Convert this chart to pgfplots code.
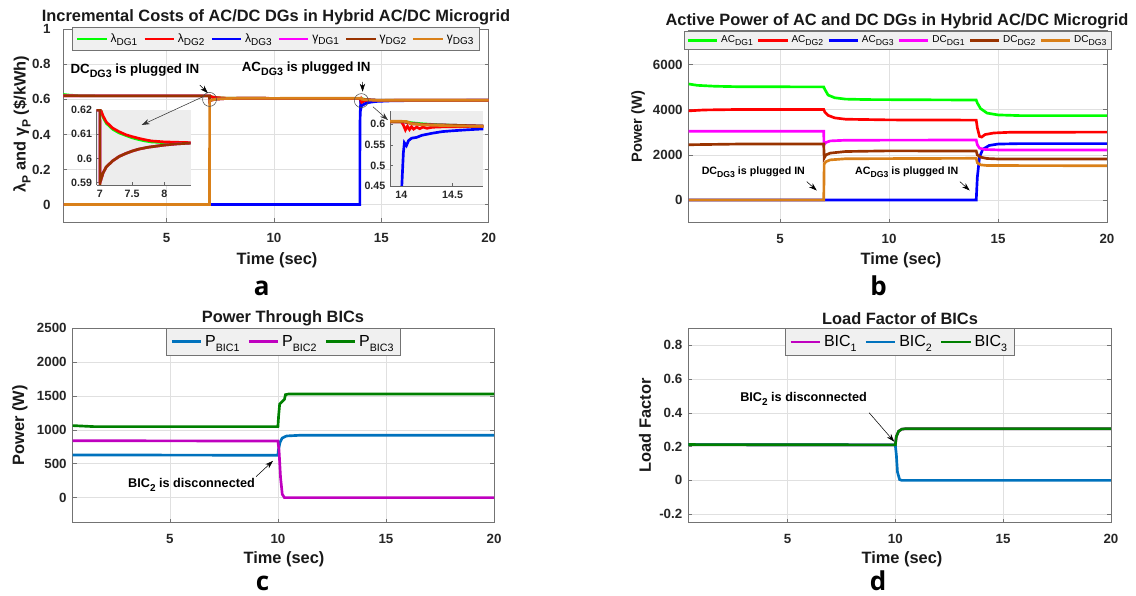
\documentclass[border=0pt]{standalone}
\usepackage{fontspec}
\setmainfont{Liberation Sans}
\newfontfamily\panelfont{Open Sans}
\usepackage{pgfplots}
\pgfplotsset{compat=1.18}
\usepackage{pgfplotstable}
\usetikzlibrary{arrows.meta}

\definecolor{cGreen}{rgb}{0,1,0}
\definecolor{cRed}{rgb}{1,0,0}
\definecolor{cBlue}{rgb}{0,0,1}
\definecolor{cMag}{rgb}{1,0,1}
\definecolor{cBrown}{rgb}{0.6,0.2,0}
\definecolor{cOrange}{rgb}{0.85,0.5,0.1}
\definecolor{bBlue}{rgb}{0,0.447,0.741}
\definecolor{bMag}{rgb}{0.75,0,0.75}
\definecolor{bGreen}{rgb}{0,0.5,0}

\newcommand\sbf[2]{\raisebox{-0.3em}{\fontsize{#1}{#1}\selectfont #2}}

% panel a: incremental costs
\pgfplotstableread{
t v
0.19 0.628
0.5 0.624
1 0.621
2 0.620
7 0.620
7.02 0.6195
7.05 0.617
7.1 0.6145
7.2 0.612
7.3 0.6105
7.4 0.6095
7.5 0.6085
7.6 0.6078
7.7 0.6072
7.8 0.6068
8 0.6065
8.4 0.6063
10 0.606
14 0.606
14.05 0.6055
14.1 0.6035
14.2 0.601
14.3 0.5995
14.5 0.5975
14.8 0.5955
16 0.595
20 0.595
}\aLone
\pgfplotstableread{
t v
0.19 0.621
1 0.620
7 0.620
7.02 0.6195
7.05 0.6175
7.1 0.615
7.2 0.6125
7.3 0.611
7.4 0.6098
7.5 0.609
7.6 0.6083
7.7 0.6077
7.8 0.6072
8 0.6068
8.4 0.6065
10 0.606
14 0.606
14.02 0.598
14.04 0.586
14.06 0.595
14.08 0.587
14.1 0.594
14.12 0.588
14.15 0.593
14.18 0.589
14.21 0.593
14.25 0.590
14.3 0.5925
14.4 0.5935
14.6 0.594
14.8 0.594
16 0.595
20 0.595
}\aLtwo
\pgfplotstableread{
t v
0.19 0
14 0
14.005 0.45
14.02 0.53
14.03 0.555
14.05 0.548
14.07 0.56
14.1 0.566
14.15 0.568
14.2 0.573
14.3 0.578
14.4 0.582
14.5 0.584
14.65 0.5865
14.8 0.5885
15.5 0.592
17 0.594
20 0.595
}\aLthree
\pgfplotstableread{
t v
0.19 0.620
7 0.620
7.003 0.590
7.02 0.5915
7.05 0.594
7.1 0.5965
7.2 0.599
7.3 0.6008
7.4 0.602
7.5 0.603
7.6 0.6038
7.75 0.6046
8 0.6055
8.2 0.606
8.4 0.6063
10 0.606
14 0.606
14.05 0.6045
14.1 0.6015
14.2 0.5995
14.3 0.5985
14.5 0.5975
14.8 0.5955
16 0.595
20 0.595
}\aGtwo
\pgfplotstableread{
t v
0.19 0
7 0
7.003 0.590
7.02 0.5915
7.05 0.594
7.1 0.5965
7.2 0.599
7.3 0.6008
7.4 0.602
7.5 0.603
7.6 0.6038
7.75 0.6046
8 0.6055
8.2 0.606
8.4 0.6063
10 0.606
14 0.607
14.05 0.6065
14.1 0.601
14.2 0.5985
14.3 0.5975
14.5 0.596
14.8 0.5945
16 0.595
20 0.595
}\aGthree

% panel b: active power
\pgfplotstableread{
t v
0.8 5140
1.2 5080
2 5040
3 5020
7 5010
7.05 4900
7.2 4650
7.5 4530
8 4470
9 4450
14 4430
14.05 4300
14.2 4050
14.5 3850
15 3770
16 3740
20 3740
}\bAone
\pgfplotstableread{
t v
0.8 3950
1.5 3990
3 4010
7 4010
7.05 3900
7.2 3750
7.5 3640
8 3580
10 3550
14 3540
14.05 3200
14.15 2820
14.25 2790
14.4 2900
14.8 2970
15.5 3000
20 3010
}\bAtwo
\pgfplotstableread{
t v
0.8 0
14 0
14.05 1000
14.15 1900
14.3 2250
14.6 2420
15 2480
16 2500
20 2500
}\bAthree
\pgfplotstableread{
t v
0.8 3050
7 3050
7.01 2450
7.1 2550
7.3 2620
8 2650
14 2660
14.05 2450
14.15 2300
14.4 2240
15 2220
20 2220
}\bDone
\pgfplotstableread{
t v
0.8 2450
3 2480
7 2480
7.02 1860
7.1 2000
7.3 2080
8 2150
10 2180
14 2170
14.05 2000
14.2 1900
14.5 1840
15 1820
20 1820
}\bDtwo
\pgfplotstableread{
t v
0.8 0
7 0
7.02 1600
7.1 1700
7.3 1780
8 1830
14 1850
14.05 1650
14.2 1560
14.5 1530
20 1520
}\bDthree

% panel c: power through BICs
\pgfplotstableread{
t v
0.5 630
10 625
10.02 700
10.1 820
10.2 880
10.4 910
11 920
20 920
}\cPone
\pgfplotstableread{
t v
0.5 840
10 835
10.05 700
10.12 300
10.2 50
10.3 0
20 0
}\cPtwo
\pgfplotstableread{
t v
0.5 1063
1.5 1048
10 1048
10.03 1200
10.08 1380
10.2 1420
10.3 1450
10.35 1520
10.5 1530
20 1530
}\cPthree

% panel d: load factor
\pgfplotstableread{
t v
0.4 0.212
10 0.21
10.05 0.26
10.15 0.29
10.3 0.303
10.5 0.306
20 0.306
}\dBone
\pgfplotstableread{
t v
0.4 0.212
10 0.21
10.05 0.15
10.1 0.05
10.2 0.005
10.3 0
20 0
}\dBtwo
\pgfplotstableread{
t v
0.4 0.212
10 0.21
10.05 0.26
10.15 0.29
10.3 0.303
10.5 0.306
20 0.306
}\dBthree

\pgfplotsset{
  matl/.style={
    scale only axis, anchor=south west,
    axis line style={black!55},
    every tick/.style={black!55, line width=0.4pt},
    tick align=inside, major tick length=3pt,
    xmajorgrids, ymajorgrids,
    major grid style={black!12, line width=0.4pt},
    ticklabel style={font=\bfseries\fontsize{10}{12}\selectfont, text=black!85},
    /pgf/number format/assume math mode=true,
    /pgf/number format/1000 sep={},
    scaled ticks=false,
    xtick={5,10,15,20}, xmax=20,
    xticklabel style={yshift=-5pt},
    every axis plot/.append style={line width=2pt},
    legend cell align=left,
    legend style={fill=black!6, draw=black!55, line width=0.5pt, at={(0.5,1)},
      anchor=north, inner sep=1.5pt,
      /tikz/every even column/.append style={column sep=4pt}},
    legend image code/.code={\draw[##1, line width=2pt] (0pt,0pt) -- (22pt,0pt);},
  },
  inset/.style={
    scale only axis, anchor=south west,
    axis background/.style={fill=black!7},
    axis x line*=bottom, axis y line*=left,
    axis line style={black!60},
    every tick/.style={black!60},
    tick align=inside, major tick length=2pt,
    ticklabel style={font=\bfseries\fontsize{8}{9}\selectfont, text=black!85},
    /pgf/number format/assume math mode=true,
    every axis plot/.append style={line width=2pt},
  },
}

\begin{document}
\begin{tikzpicture}
\useasboundingbox (0,0) rectangle (852pt,-447pt);

% ---- a ----
\begin{axis}[matl, at={(47.5pt,-166.5pt)}, width=319pt, height=144.5pt,
  xmin=0.19, ymin=-0.1, ymax=1, ytick={0,0.2,0.4,0.6,0.8,1},
  yticklabel style={xshift=-6pt},
  legend columns=6, legend style={font=\fontsize{9}{10}\selectfont, yshift=1.5pt,
    inner sep=2.5pt, /tikz/every even column/.append style={column sep=2.5pt}}]
\addplot[cGreen] table {\aLone};
\addplot[cRed] table {\aLtwo};
\addplot[cBlue] table {\aLthree};
\addplot[cMag] table {\aGtwo};
\addplot[cBrown] table {\aGtwo};
\addplot[cOrange] table {\aGthree};
\legend{λ\sbf{7.5pt}{DG1}, λ\sbf{7.5pt}{DG2}, λ\sbf{7.5pt}{DG3}, γ\sbf{7.5pt}{DG1}, γ\sbf{7.5pt}{DG2}, γ\sbf{7.5pt}{DG3}}
\draw[black!70, line width=0.4pt] (axis cs:7,0.6) circle[radius=5.25pt];
\draw[black!70, line width=0.4pt] (axis cs:14.07,0.593) circle[radius=5.25pt];
\draw[black, -{Stealth[length=6pt,width=4pt]}] (axis cs:6.55,0.682) -- (axis cs:6.92,0.636);
\draw[black, -{Stealth[length=6pt,width=4pt]}] (axis cs:14.12,0.70) -- (axis cs:14.13,0.644);
\node[font=\bfseries\fontsize{10}{12}\selectfont] at (axis cs:3.52,0.765) {DC\sbf{8pt}{DG3} is plugged IN};
\node[font=\bfseries\fontsize{10}{12}\selectfont] at (axis cs:11.5,0.775) {AC\sbf{8pt}{DG3} is plugged IN};
\coordinate (A1s) at (axis cs:6.69,0.615);
\coordinate (A1e) at (axis cs:3.84,0.454);
\coordinate (A2s) at (axis cs:14.61,0.558);
\coordinate (A2e) at (axis cs:15.31,0.482);
\end{axis}

\begin{axis}[inset, at={(72.5pt,-138.75pt)}, width=70.5pt, height=56.25pt,
  xmin=6.95, xmax=8.41, ymin=0.589, ymax=0.62,
  xtick={7,7.5,8}, ytick={0.59,0.6,0.61,0.62}]
\addplot[cOrange] table {\aGthree};
\addplot[cGreen] table {\aLone};
\addplot[cRed] table {\aLtwo};
\addplot[cMag] table {\aGtwo};
\addplot[cBrown] table {\aGtwo};
\end{axis}

\begin{axis}[inset, at={(292.5pt,-139.5pt)}, width=70pt, height=56.25pt,
  xmin=13.89, xmax=14.8, ymin=0.45, ymax=0.632,
  xtick={14,14.5}, ytick={0.45,0.5,0.55,0.6}]
\addplot[cGreen] table {\aLone};
\addplot[cRed] table {\aLtwo};
\addplot[cBlue] table {\aLthree};
\addplot[cMag] table {\aGtwo};
\addplot[cBrown] table {\aGtwo};
\addplot[cOrange] table {\aGthree};
\end{axis}

\draw[black!80, line width=0.4pt, -{Stealth[length=6pt,width=4pt]}] (A1s) -- (A1e);
\draw[black!80, line width=0.4pt, -{Stealth[length=6pt,width=4pt]}] (A2s) -- (A2e);

% ---- b ----
\begin{axis}[matl, at={(516.5pt,-167pt)}, width=313.7pt, height=144pt,
  xmin=0.8, ymin=-1000, ymax=7500, ytick={0,2000,4000,6000},
  yticklabel style={xshift=-1pt},
  legend columns=6, legend style={font=\fontsize{7.5}{9}\selectfont,
    /tikz/every even column/.append style={column sep=1pt}}]
\addplot[cGreen] table {\bAone};
\addplot[cRed] table {\bAtwo};
\addplot[cBlue] table {\bAthree};
\addplot[cMag] table {\bDone};
\addplot[cBrown] table {\bDtwo};
\addplot[cOrange] table {\bDthree};
\legend{AC\sbf{6.5pt}{DG1}, AC\sbf{6.5pt}{DG2}, AC\sbf{6.5pt}{DG3}, DC\sbf{6.5pt}{DG1}, DC\sbf{6.5pt}{DG2}, DC\sbf{6.5pt}{DG3}}
\node[font=\bfseries\fontsize{8}{10}\selectfont] at (axis cs:3.77,1250) {DC\sbf{6.5pt}{DG3} is plugged IN};
\node[font=\bfseries\fontsize{8}{10}\selectfont] at (axis cs:10.81,1250) {AC\sbf{6.5pt}{DG3} is plugged IN};
\draw[black, -{Stealth[length=6pt,width=4pt]}] (axis cs:6.22,817) -- (axis cs:6.68,424);
\draw[black, -{Stealth[length=6pt,width=4pt]}] (axis cs:13.25,817) -- (axis cs:13.7,424);
\end{axis}

% ---- c ----
\begin{axis}[matl, at={(54.5pt,-392pt)}, width=316pt, height=145.8pt,
  xmin=0.5, ymin=-370, ymax=2500, ytick={0,500,1000,1500,2000,2500},
  yticklabel style={xshift=-1pt},
  legend columns=3, legend style={font=\fontsize{12}{13}\selectfont, inner sep=3pt}]
\addplot[bBlue] table {\cPone};
\addplot[bMag] table {\cPtwo};
\addplot[bGreen] table {\cPthree};
\legend{P\sbf{8pt}{BIC1}, P\sbf{8pt}{BIC2}, P\sbf{8pt}{BIC3}}
\node[font=\bfseries\fontsize{9.5}{11}\selectfont] at (axis cs:6.0,187) {BIC\sbf{7.5pt}{2} is disconnected};
\draw[black, -{Stealth[length=6pt,width=4pt]}] (axis cs:8.99,310) -- (axis cs:9.77,542);
\end{axis}

% ---- d ----
\begin{axis}[matl, at={(516.2pt,-392pt)}, width=317pt, height=145.8pt,
  xmin=0.4, ymin=-0.25, ymax=0.9, ytick={-0.2,0,0.2,0.4,0.6,0.8},
  yticklabel style={xshift=-1pt},
  legend columns=3, legend style={font=\fontsize{12}{13}\selectfont, inner sep=3pt}]
\addplot[bMag] table {\dBone};
\addplot[bBlue] table {\dBtwo};
\addplot[bGreen] table {\dBthree};
\legend{BIC\sbf{8pt}{1}, BIC\sbf{8pt}{2}, BIC\sbf{8pt}{3}}
\node[font=\bfseries\fontsize{9.5}{11}\selectfont] at (axis cs:5.75,0.483) {BIC\sbf{7.5pt}{2} is disconnected};
\draw[black, -{Stealth[length=6pt,width=4pt]}] (axis cs:8.79,0.40) -- (axis cs:9.95,0.229);
\end{axis}

% titles, axis labels, panel letters
\begin{scope}[every node/.style={font=\bfseries\fontsize{12.3}{14}\selectfont, text=black!90}]
\node at (207pt,-12.75pt) {Incremental Costs of AC/DC DGs in Hybrid AC/DC Microgrid};
\node at (672.75pt,-15.75pt) {Active Power of AC and DC DGs in Hybrid AC/DC Microgrid};
\node at (212.25pt,-238.5pt) {Power Through BICs};
\node at (675pt,-239.25pt) {Load Factor of BICs};
\node at (207.75pt,-195pt) {Time (sec)};
\node at (675.75pt,-195pt) {Time (sec)};
\node at (213pt,-419.25pt) {Time (sec)};
\node at (676.5pt,-419.25pt) {Time (sec)};
\node[rotate=90] at (16.5pt,-93pt) {λ\sbf{9pt}{P} and γ\sbf{9pt}{P} (\$/kWh)};
\node[rotate=90, font=\bfseries\fontsize{11}{13}\selectfont] at (478.5pt,-95pt) {Power (W)};
\node[rotate=90] at (15pt,-319.1pt) {Power (W)};
\node[rotate=90] at (483.75pt,-319.1pt) {Load Factor};
\end{scope}
\begin{scope}[every node/.style={font=\panelfont\bfseries\fontsize{19.5}{20}\selectfont, anchor=base}]
\node at (196.3pt,-221.25pt) {a};
\node at (658.9pt,-221.25pt) {b};
\node at (196.9pt,-443pt) {c};
\node at (658.5pt,-442.5pt) {d};
\end{scope}
\end{tikzpicture}
\end{document}
